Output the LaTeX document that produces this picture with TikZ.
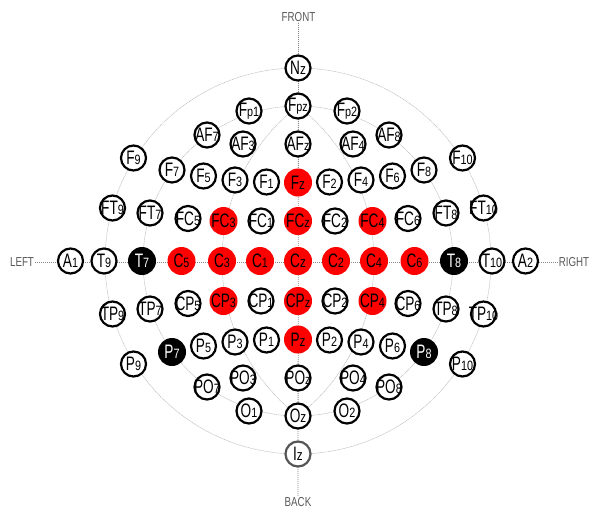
\documentclass[tikz,border=0pt]{standalone}
\usepackage{fontspec}
\newfontfamily\cfbig[FakeStretch=0.7,Scale=1.95]{Liberation Sans}
\newfontfamily\cfsmall[FakeStretch=0.8,Scale=1.35]{Liberation Sans}
\newfontfamily\cfz[FakeStretch=0.78,Scale=1.5]{Liberation Sans}
\newfontfamily\cfdir[FakeStretch=0.75,Scale=1.3]{Liberation Sans}
\newcommand\lo[1]{{\cfsmall #1}}
\newcommand\zz{{\cfz z}}
\definecolor{arcgray}{HTML}{BBBBBB}
\definecolor{axgray}{HTML}{888888}
\definecolor{txtgray}{HTML}{5A5A5A}
\definecolor{izgray}{HTML}{555555}
\tikzset{
  el/.style={circle, draw=black, line width=2.2pt, fill=white, minimum size=25pt,
    inner sep=0pt, text=black, font=\cfbig,
    execute at begin node={\setbox0=\hbox\bgroup},
    execute at end node={\egroup\hbox to 0pt{\hss\box0\hss}}},
  redel/.style={el, draw=none, fill=red, minimum size=28pt},
  blkel/.style={el, draw=none, fill=black, text=white, minimum size=28pt},
  grayel/.style={el, draw=izgray},
  arcline/.style={draw=arcgray, line width=0.5pt, dash pattern=on 1.2pt off 0.6pt},
  axline/.style={draw=axgray, line width=0.8pt, dash pattern=on 1pt off 1pt},
  dirtext/.style={font=\cfdir, text=txtgray, inner sep=1pt}
}
\begin{document}
\begin{tikzpicture}[x=1pt,y=-1pt]
\useasboundingbox (0,0) rectangle (593,509);
\fill[white] (0,0) rectangle (593,509);
\coordinate (ctr) at (298,261);
% direction labels
\node[dirtext] (front) at (298.5,17) {FRONT};
\node[dirtext] (back) at (298,502) {BACK};
\node[dirtext] (left) at (22,262) {LEFT};
\node[dirtext] (right) at (574,262) {RIGHT};
% arcs
\draw[arcline] (ctr) circle[radius=193];
\draw[arcline] (ctr) circle[radius=155];
\begin{scope}
  \clip (0,0) rectangle (298,509);
  \draw[arcline] (418,261) circle[radius=196];
\end{scope}
\begin{scope}
  \clip (298,0) rectangle (593,509);
  \draw[arcline] (178,261) circle[radius=196];
\end{scope}
% axes
\draw[axline] (left.east) -- (right.west);
\draw[axline] (front.south) -- (back.north);
% electrodes
\begin{scope}[shift={(298,261)}]
\node[el] (Nz) at (0,-193) {N\zz};
\node[el] (Fpz) at (0,-155) {F\lo{pz}};
\node[el] (Fp1) at (-49,-150) {F\lo{p1}};
\node[el] (Fp2) at (49,-150) {F\lo{p2}};
\node[el] (AF7) at (-91,-126) {AF\lo{7}};
\node[el] (AF3) at (-55,-117) {AF\lo{3}};
\node[el] (AFz) at (0,-117) {AF\lo{z}};
\node[el] (AF4) at (55,-117) {AF\lo{4}};
\node[el] (AF8) at (91,-126) {AF\lo{8}};
\node[el] (F9) at (-164.5,-103) {F\lo{9}};
\node[el] (F7) at (-126,-91) {F\lo{7}};
\node[el] (F5) at (-94.5,-85) {F\lo{5}};
\node[el] (F3) at (-63,-81) {F\lo{3}};
\node[el] (F1) at (-31.5,-79) {F\lo{1}};
\node[redel] (Fz) at (0,-78.5) {F\zz};
\node[el] (F2) at (31.5,-79) {F\lo{2}};
\node[el] (F4) at (63,-81) {F\lo{4}};
\node[el] (F6) at (94.5,-85) {F\lo{6}};
\node[el] (F8) at (126,-91) {F\lo{8}};
\node[el] (F10) at (164.5,-103) {F\lo{10}};
\node[el] (FT9) at (-185.5,-53) {FT\lo{9}};
\node[el] (FT7) at (-148,-48) {FT\lo{7}};
\node[el] (FC5) at (-110,-42.5) {FC\lo{5}};
\node[redel] (FC3) at (-74.5,-40) {FC\lo{3}};
\node[el] (FC1) at (-37,-40) {FC\lo{1}};
\node[redel] (FCz) at (0,-40) {FC\lo{z}};
\node[el] (FC2) at (37,-40) {FC\lo{2}};
\node[redel] (FC4) at (74.5,-40) {FC\lo{4}};
\node[el] (FC6) at (110,-42.5) {FC\lo{6}};
\node[el] (FT8) at (148,-48) {FT\lo{8}};
\node[el] (FT10) at (185.5,-53) {FT\lo{10}};
\node[el] (A1) at (-227.5,0) {A\lo{1}};
\node[el] (T9) at (-194,0) {T\lo{9}};
\node[blkel] (T7) at (-156,0) {T\lo{7}};
\node[redel] (C5) at (-116.5,0) {C\lo{5}};
\node[redel] (C3) at (-76,0) {C\lo{3}};
\node[redel] (C1) at (-38,0) {C\lo{1}};
\node[redel] (Cz) at (0,0) {C\zz};
\node[redel] (C2) at (38,0) {C\lo{2}};
\node[redel] (C4) at (76,0) {C\lo{4}};
\node[redel] (C6) at (116.5,0) {C\lo{6}};
\node[blkel] (T8) at (156,0) {T\lo{8}};
\node[el] (T10) at (194,0) {T\lo{10}};
\node[el] (A2) at (227.5,0) {A\lo{2}};
\node[el] (TP9) at (-185.5,53) {TP\lo{9}};
\node[el] (TP7) at (-148,48) {TP\lo{7}};
\node[el] (CP5) at (-110,42.5) {CP\lo{5}};
\node[redel] (CP3) at (-74.5,40) {CP\lo{3}};
\node[el] (CP1) at (-37,40) {CP\lo{1}};
\node[redel] (CPz) at (0,40) {CP\lo{z}};
\node[el] (CP2) at (37,40) {CP\lo{2}};
\node[redel] (CP4) at (74.5,40) {CP\lo{4}};
\node[el] (CP6) at (110,42.5) {CP\lo{6}};
\node[el] (TP8) at (148,48) {TP\lo{8}};
\node[el] (TP10) at (185.5,53) {TP\lo{10}};
\node[el] (P9) at (-164.5,103) {P\lo{9}};
\node[blkel] (P7) at (-126,91) {P\lo{7}};
\node[el] (P5) at (-94.5,85) {P\lo{5}};
\node[el] (P3) at (-63,81) {P\lo{3}};
\node[el] (P1) at (-31.5,79) {P\lo{1}};
\node[redel] (Pz) at (0,78.5) {P\zz};
\node[el] (P2) at (31.5,79) {P\lo{2}};
\node[el] (P4) at (63,81) {P\lo{4}};
\node[el] (P6) at (94.5,85) {P\lo{6}};
\node[blkel] (P8) at (126,91) {P\lo{8}};
\node[el] (P10) at (164.5,103) {P\lo{10}};
\node[el] (PO7) at (-91,126) {PO\lo{7}};
\node[el] (PO3) at (-55,117) {PO\lo{3}};
\node[el] (POz) at (0,117) {PO\lo{z}};
\node[el] (PO4) at (55,117) {PO\lo{4}};
\node[el] (PO8) at (91,126) {PO\lo{8}};
\node[el] (O1) at (-49,150) {O\lo{1}};
\node[el] (Oz) at (0,155) {O\zz};
\node[el] (O2) at (49,150) {O\lo{2}};
\node[grayel] (Iz) at (0,193) {I\zz};
\end{scope}
\end{tikzpicture}
\end{document}
